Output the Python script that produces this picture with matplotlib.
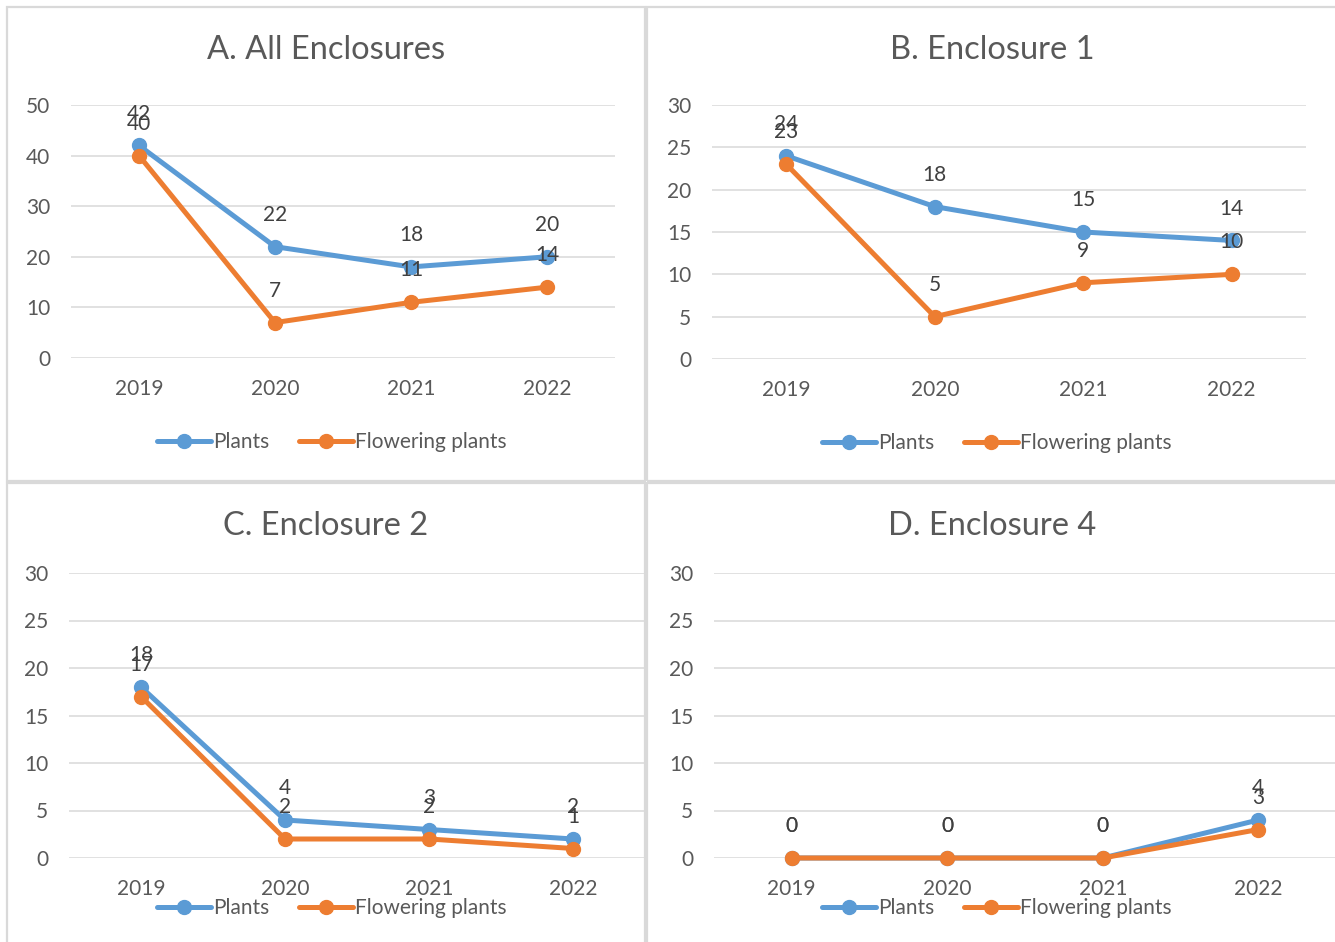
import matplotlib
matplotlib.use('Agg')
import matplotlib.pyplot as plt
from matplotlib.patches import Rectangle

plt.rcParams['font.family'] = ['Lato', 'DejaVu Sans']

years = ['2019', '2020', '2021', '2022']
series_names = ['Plants', 'Flowering plants']

titles = ['A. All Enclosures', 'B. Enclosure 1', 'C. Enclosure 2', 'D. Enclosure 4']
plants = [
    [42, 22, 18, 20],
    [24, 18, 15, 14],
    [18, 4, 3, 2],
    [0, 0, 0, 4],
]
flowering = [
    [40, 7, 11, 14],
    [23, 5, 9, 10],
    [17, 2, 2, 1],
    [0, 0, 0, 3],
]
y_max = [50, 30, 30, 30]
y_step = [10, 5, 5, 5]

W, H = 1335, 942
BLUE = '#5B9BD5'
ORANGE = '#ED7D31'
GRID = '#D9D9D9'
TXT = '#595959'
LBL = '#404040'
FS = 15

# pixel layouts: plot area (left, top, right, bottom), title centre, legend centre, panel box
plot_px = [(71, 105, 615, 358), (712, 105, 1306, 359), (69, 573, 645, 858), (714, 573, 1336, 858)]
title_px = [(326, 50), (992, 50), (326, 526), (992, 526)]
legend_px = [(332, 442), (997, 443), (332, 908), (997, 908)]
box_px = [(7, 7, 645, 481), (647, 7, 1345, 481), (7, 483, 645, 950), (647, 483, 1345, 950)]


def px_rect(l, t, r, b):
    return [l / W, 1 - b / H, (r - l) / W, (b - t) / H]


fig = plt.figure(figsize=(W / 100, H / 100), dpi=100)

# panel frames
for (l, t, r, b) in box_px:
    fig.patches.append(Rectangle((l / W, 1 - b / H), (r - l) / W, (b - t) / H,
                                 transform=fig.transFigure, fill=False,
                                 edgecolor=GRID, linewidth=1.6, zorder=0))


def draw_panel(i):
    ax = fig.add_axes(px_rect(*plot_px[i]))
    x = range(len(years))
    ax.set_xlim(-0.5, len(years) - 0.5)
    ax.set_ylim(0, y_max[i])
    ax.set_yticks(range(0, y_max[i] + 1, y_step[i]))
    ax.set_xticks(list(x))
    ax.set_xticklabels(years)
    ax.grid(axis='y', color=GRID, linewidth=1.1)
    ax.set_axisbelow(True)
    for s in ax.spines.values():
        s.set_visible(False)
    ax.tick_params(length=0, labelsize=FS, labelcolor=TXT)
    ax.tick_params(axis='y', pad=15)
    ax.tick_params(axis='x', pad=15)

    lines = []
    for vals, col, name in [(plants[i], BLUE, series_names[0]), (flowering[i], ORANGE, series_names[1])]:
        ln, = ax.plot(x, vals, color=col, linewidth=3.6, marker='o', markersize=10,
                      label=name, clip_on=False, solid_capstyle='round')
        lines.append(ln)
        for xi, v in zip(x, vals):
            ax.annotate(str(v), (xi, v), xytext=(0, 23), textcoords='offset points',
                        ha='center', va='center', fontsize=FS, color=LBL)

    tx, ty = title_px[i]
    fig.text(tx / W, 1 - ty / H, titles[i], ha='center', va='center', fontsize=23.5, color=TXT)

    lx, ly = legend_px[i]
    ax.legend(handles=lines, loc='center', bbox_to_anchor=(lx / W, 1 - ly / H),
              bbox_transform=fig.transFigure, ncol=2, frameon=False, fontsize=FS,
              handlelength=2.6, handletextpad=0.1, columnspacing=1.4,
              labelcolor=TXT)


for i in range(4):
    draw_panel(i)

fig.savefig('out.png', dpi=100)
